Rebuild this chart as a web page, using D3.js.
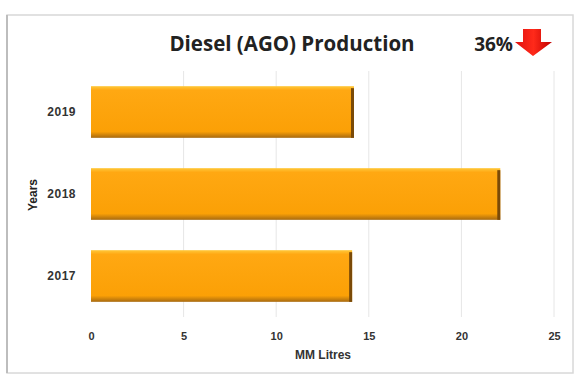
<!DOCTYPE html>
<html><head><meta charset="utf-8">
<script src="https://cdn.jsdelivr.net/npm/d3@7"></script>
<style>body{margin:0;background:#fff;}svg{display:block;}</style>
</head><body>
<svg id="c" width="575" height="374"></svg>
<script>
const years = ["2019", "2018", "2017"];
const production = [14.2, 22.1, 14.1];
const xTicks = [0, 5, 10, 15, 20, 25];
const title = "Diesel (AGO) Production";
const changeLabel = "36%";
const xLabel = "MM Litres";
const yLabel = "Years";

const svg = d3.select("#c");
const font = "'Liberation Sans', Arial, sans-serif";

// frame
svg.append("rect").attr("x", 7).attr("y", 15).attr("width", 566).attr("height", 358)
  .attr("fill", "#fff").attr("stroke", "#d8d8d8").attr("stroke-width", 1.5);
svg.append("line").attr("x1", 7).attr("x2", 7).attr("y1", 15).attr("y2", 373)
  .attr("stroke", "#bdbdbd").attr("stroke-width", 2);

const x = d3.scaleLinear().domain([0, 25]).range([91, 554]);
const y = d3.scaleBand().domain(years).range([71, 317]).paddingInner(0.37).paddingOuter(0.185);

const defs = svg.append("defs");
const g1 = defs.append("linearGradient").attr("id", "bargrad").attr("x1", 0).attr("x2", 0).attr("y1", 0).attr("y2", 1);
g1.append("stop").attr("offset", "0%").attr("stop-color", "#ffc83a");
g1.append("stop").attr("offset", "8%").attr("stop-color", "#ffa812");
g1.append("stop").attr("offset", "88%").attr("stop-color", "#fba006");
g1.append("stop").attr("offset", "100%").attr("stop-color", "#a86a10");

// gridlines
svg.append("g").selectAll("line").data(xTicks.filter(d => d > 0)).join("line")
  .attr("x1", d => x(d)).attr("x2", d => x(d)).attr("y1", 71).attr("y2", 317)
  .attr("stroke", "#e6e6e6").attr("stroke-width", 1);

// bars
const bars = svg.append("g");
bars.selectAll("rect.bar").data(years).join("rect").attr("class", "bar")
  .attr("x", x(0)).attr("y", d => y(d))
  .attr("width", (d, i) => x(production[i]) - x(0)).attr("height", y.bandwidth())
  .attr("fill", "url(#bargrad)");
bars.selectAll("rect.side").data(years).join("rect").attr("class", "side")
  .attr("x", (d, i) => x(production[i]) - 3).attr("y", d => y(d) + 2)
  .attr("width", 3).attr("height", y.bandwidth() - 2)
  .attr("fill", "#7a4a08");

// x axis
const xa = svg.append("g").attr("transform", "translate(0,332)")
  .call(d3.axisBottom(x).tickValues(xTicks).tickSize(0).tickPadding(0));
xa.select(".domain").remove();
xa.selectAll("text").attr("font-family", font).attr("font-size", 11).attr("font-weight", "bold").attr("fill", "#333");

// y axis
const ya = svg.append("g").attr("transform", "translate(76,0)")
  .call(d3.axisLeft(y).tickSize(0).tickPadding(0));
ya.select(".domain").remove();
ya.selectAll("text").attr("font-family", font).attr("font-size", 12).attr("font-weight", "bold")
  .attr("letter-spacing", 0.5).attr("fill", "#333");

// labels
svg.append("text").attr("x", 323).attr("y", 359).attr("text-anchor", "middle")
  .attr("font-family", font).attr("font-size", 12).attr("font-weight", "bold").attr("fill", "#333").text(xLabel);
svg.append("text").attr("transform", "translate(37,195) rotate(-90)").attr("text-anchor", "middle")
  .attr("font-family", font).attr("font-size", 12).attr("font-weight", "bold").attr("fill", "#222").text(yLabel);

svg.append("text").attr("x", 292).attr("y", 51).attr("text-anchor", "middle")
  .attr("font-family", "'Open Sans', sans-serif").attr("font-size", 20.5).attr("font-weight", "bold").attr("fill", "#222").text(title);
svg.append("text").attr("x", 513).attr("y", 51).attr("text-anchor", "end")
  .attr("font-family", "'Open Sans', sans-serif").attr("font-size", 19).attr("font-weight", "bold").attr("fill", "#222").text(changeLabel);

// arrow
const ag = defs.append("linearGradient").attr("id", "arrgrad").attr("x1", 0).attr("x2", 1).attr("y1", 0).attr("y2", 0);
ag.append("stop").attr("offset", "0%").attr("stop-color", "#e01010");
ag.append("stop").attr("offset", "50%").attr("stop-color", "#ff2a1a");
ag.append("stop").attr("offset", "100%").attr("stop-color", "#c00000");
svg.append("path")
  .attr("d", d3.line()([[523,29],[541,29],[541,42],[552,42],[533,56],[515,42],[523,42]]) + "Z")
  .attr("fill", "url(#arrgrad)");
</script>
</body></html>
